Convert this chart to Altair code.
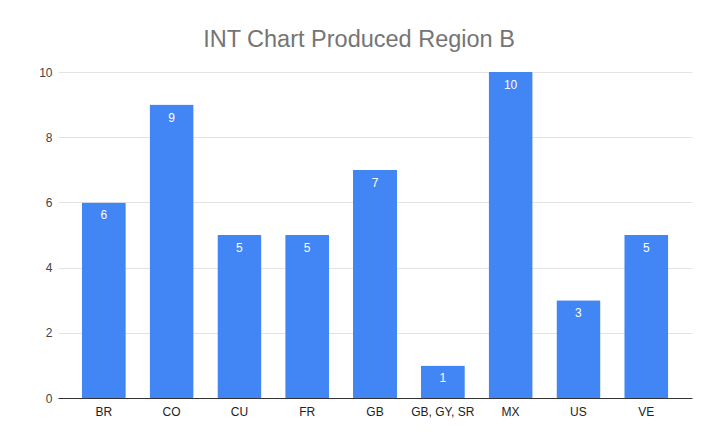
import altair as alt
import pandas as pd

categories = ["BR", "CO", "CU", "FR", "GB", "GB, GY, SR", "MX", "US", "VE"]
values = [6, 9, 5, 5, 7, 1, 10, 3, 5]

df = pd.DataFrame({"cat": categories, "val": values})

x = alt.X("cat:N", sort=categories, title=None,
          scale=alt.Scale(paddingInner=0.35, paddingOuter=0.35),
          axis=alt.Axis(labelAngle=0, labelColor="#222222", labelFont="Liberation Sans",
                        labelFontSize=12, ticks=False, domainColor="#333333",
                        domainWidth=1, labelPadding=8))
y = alt.Y("val:Q", title=None,
          scale=alt.Scale(domain=[0, 10], nice=False),
          axis=alt.Axis(values=[0, 2, 4, 6, 8, 10], labelColor="#444444",
                        labelFont="Liberation Sans", labelFontSize=12, ticks=False,
                        domain=False, gridColor="#e3e3e3", labelPadding=6))

bars = alt.Chart(df).mark_bar(color="#4285F4", cornerRadius=1).encode(x=x, y=y)
labels = alt.Chart(df).mark_text(color="white", baseline="top", dy=8,
                                 font="Liberation Sans", fontSize=12).encode(
    x=alt.X("cat:N", sort=categories), y="val:Q", text="val:Q")

chart = (bars + labels).properties(
    width=634, height=326,
    autosize=alt.AutoSizeParams(type="none"),
    padding={"left": 50, "top": 64, "right": 4, "bottom": 31},
    title=alt.TitleParams("INT Chart Produced Region B", fontSize=23.5, font="Liberation Sans",
                          fontWeight="normal", color="#757575", anchor="middle",
                          dx=-16, offset=15),
    background="white",
).configure_view(stroke=None)

chart.save("out.html", embed_options={"renderer": "svg", "actions": False})
